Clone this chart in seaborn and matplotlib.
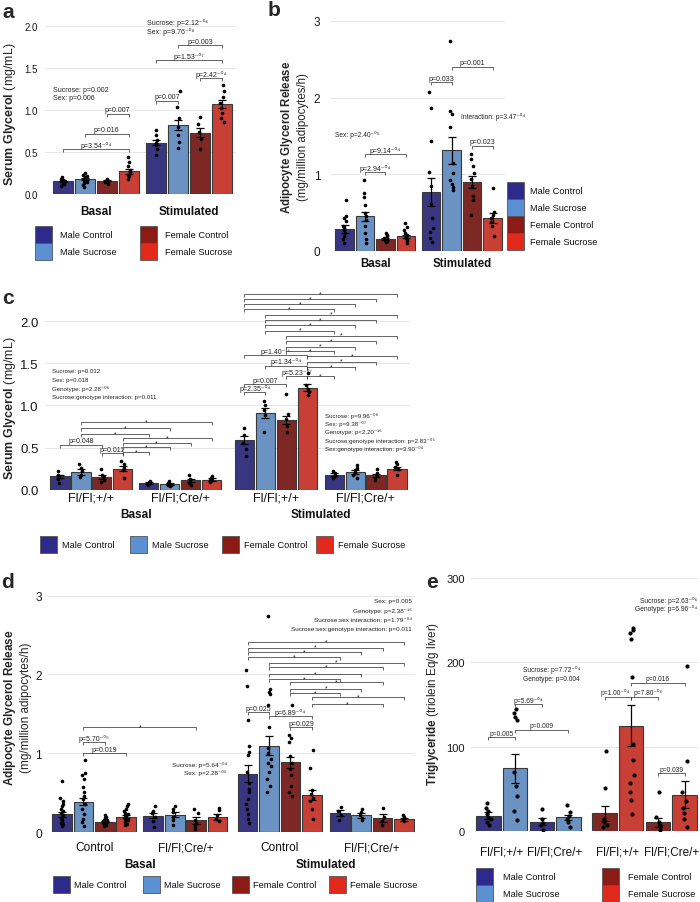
import numpy as np
import pandas as pd
import matplotlib
matplotlib.use("Agg")
import matplotlib.pyplot as plt
from matplotlib.patches import Rectangle
import seaborn as sns

# ---------------------------------------------------------------- #
# Data (means, SEM and individual animals)      #
# ---------------------------------------------------------------- #
GROUPS = ["Male Control", "Male Sucrose", "Female Control", "Female Sucrose"]
PALETTE = {"Male Control": "#2d2a8c", "Male Sucrose": "#5b91d2",
           "Female Control": "#8c1b15", "Female Sucrose": "#e12a1c"}

# a - serum glycerol, Basal / Stimulated
a_mean = [0.15, 0.18, 0.16, 0.27, 0.61, 0.82, 0.73, 1.07]
a_sem = [0.01, 0.015, 0.01, 0.03, 0.03, 0.06, 0.05, 0.045]
a_points = [[0.10, 0.12, 0.13, 0.14, 0.15, 0.16, 0.17, 0.18, 0.20, 0.12, 0.14, 0.16],
            [0.08, 0.11, 0.13, 0.15, 0.17, 0.19, 0.21, 0.23, 0.25, 0.14, 0.18, 0.20],
            [0.12, 0.14, 0.15, 0.16, 0.17, 0.18, 0.15, 0.17],
            [0.44, 0.38, 0.33, 0.29, 0.26, 0.23, 0.21, 0.18],
            [0.76, 0.70, 0.64, 0.61, 0.58, 0.53, 0.47],
            [1.23, 1.03, 0.91, 0.80, 0.70, 0.62, 0.55],
            [0.92, 0.83, 0.74, 0.65, 0.54],
            [1.30, 1.23, 1.15, 1.08, 1.02, 0.96, 0.91, 0.86]]
a_clusters = ["Basal", "Stimulated"]

# b - adipocyte glycerol release
b_mean = [0.29, 0.45, 0.16, 0.19, 0.77, 1.31, 0.90, 0.43]
b_sem = [0.05, 0.06, 0.015, 0.025, 0.18, 0.17, 0.08, 0.07]
b_points = [[0.67, 0.46, 0.43, 0.39, 0.33, 0.30, 0.28, 0.24, 0.20, 0.15, 0.11],
            [0.92, 0.76, 0.71, 0.60, 0.50, 0.45, 0.41, 0.33, 0.24, 0.15, 0.11],
            [0.23, 0.21, 0.19, 0.17, 0.16, 0.15, 0.14, 0.13, 0.12],
            [0.37, 0.31, 0.27, 0.24, 0.21, 0.19, 0.17, 0.15, 0.13, 0.11],
            [2.07, 1.87, 1.43, 1.03, 0.85, 0.61, 0.43, 0.30, 0.25, 0.17, 0.12],
            [2.74, 1.83, 1.79, 1.62, 1.15, 1.02, 0.92, 0.87, 0.83, 0.80],
            [1.26, 1.20, 1.11, 1.02, 0.94, 0.85, 0.72, 0.67, 0.47],
            [0.82, 0.51, 0.47, 0.43, 0.38, 0.33, 0.20]]
b_clusters = ["Basal", "Stimulated"]

# c - serum glycerol by genotype
c_mean = [0.16, 0.21, 0.15, 0.25, 0.08, 0.065, 0.11, 0.12,
          0.59, 0.91, 0.83, 1.21, 0.18, 0.21, 0.17, 0.25]
c_sem = [0.02, 0.03, 0.025, 0.03, 0.01, 0.01, 0.02, 0.015,
         0.05, 0.06, 0.05, 0.04, 0.015, 0.02, 0.02, 0.02]
c_points = [[0.22, 0.18, 0.15, 0.13, 0.08], [0.31, 0.26, 0.22, 0.18, 0.15],
            [0.25, 0.18, 0.15, 0.12, 0.09], [0.34, 0.30, 0.26, 0.23, 0.14],
            [0.10, 0.09, 0.08, 0.07, 0.06], [0.10, 0.08, 0.06, 0.05, 0.04],
            [0.17, 0.13, 0.11, 0.08, 0.06], [0.16, 0.14, 0.12, 0.11, 0.09],
            [0.73, 0.65, 0.55, 0.48, 0.40], [1.05, 1.00, 0.95, 0.89, 0.68],
            [1.14, 0.90, 0.84, 0.76, 0.68], [1.38, 1.24, 1.20, 1.16, 1.12],
            [0.22, 0.20, 0.18, 0.16, 0.14], [0.29, 0.26, 0.23, 0.20, 0.17, 0.14],
            [0.24, 0.20, 0.17, 0.14, 0.11], [0.33, 0.30, 0.27, 0.24, 0.18]]
c_genotypes = ["Fl/Fl;+/+", "Fl/Fl;Cre/+", "Fl/Fl;+/+", "Fl/Fl;Cre/+"]

# d - adipocyte glycerol release by genotype
d_mean = [0.23, 0.39, 0.135, 0.20, 0.21, 0.225, 0.15, 0.195,
          0.745, 1.095, 0.885, 0.475, 0.245, 0.215, 0.18, 0.165]
d_sem = [0.03, 0.045, 0.01, 0.02, 0.03, 0.035, 0.05, 0.035,
         0.11, 0.12, 0.075, 0.06, 0.035, 0.03, 0.05, 0.02]
d_points = [[0.65, 0.44, 0.40, 0.36, 0.33, 0.30, 0.27, 0.25, 0.22, 0.20, 0.18, 0.16, 0.14, 0.12, 0.10, 0.08],
            [0.91, 0.75, 0.72, 0.67, 0.57, 0.51, 0.46, 0.42, 0.36, 0.29, 0.23, 0.17, 0.13, 0.08],
            [0.22, 0.20, 0.18, 0.16, 0.15, 0.14, 0.13, 0.12, 0.11, 0.10, 0.09, 0.08],
            [0.36, 0.33, 0.30, 0.27, 0.25, 0.23, 0.21, 0.19, 0.17, 0.15, 0.13, 0.11, 0.09],
            [0.33, 0.27, 0.24, 0.19, 0.14, 0.07],
            [0.33, 0.29, 0.26, 0.20, 0.15, 0.09],
            [0.30, 0.25, 0.16, 0.12, 0.08, 0.04],
            [0.31, 0.28, 0.22, 0.17, 0.14],
            [2.06, 1.85, 1.42, 1.10, 1.02, 0.98, 0.76, 0.63, 0.55, 0.51, 0.42, 0.36, 0.29, 0.23, 0.17, 0.12],
            [2.74, 1.82, 1.78, 1.75, 1.61, 1.33, 1.07, 1.01, 0.93, 0.88, 0.84, 0.76, 0.67, 0.59, 0.51],
            [1.61, 1.23, 1.19, 1.14, 0.97, 0.88, 0.80, 0.72, 0.59, 0.51, 0.46],
            [1.04, 0.81, 0.53, 0.48, 0.44, 0.40, 0.29, 0.17],
            [0.32, 0.27, 0.22, 0.16],
            [0.30, 0.26, 0.22, 0.18, 0.15],
            [0.31, 0.20, 0.14, 0.09],
            [0.22, 0.20, 0.18, 0.16, 0.14]]
d_genotypes = ["Control", "Fl/Fl;Cre/+", "Control", "Fl/Fl;Cre/+"]

# e - liver triglyceride (male pairs then female pairs)
e_groups = ["Male Control", "Male Sucrose", "Male Control", "Male Sucrose",
            "Female Control", "Female Sucrose", "Female Control", "Female Sucrose"]
e_mean = [18.5, 74.5, 11.4, 16.5, 21.3, 125.0, 10.6, 43.0]
e_sem = [4.5, 17.0, 4.0, 3.0, 9.0, 24.0, 5.0, 16.0]
e_points = [[34, 28, 24, 20, 17, 14, 11, 7],
            [145, 140, 135, 132, 70, 54, 42, 24, 13],
            [26, 15, 10, 7, 1],
            [31, 23, 18, 15, 11, 5],
            [95, 51, 15, 11, 8, 5],
            [241, 238, 235, 227, 182, 103, 84, 67, 57, 47, 37, 20],
            [47, 17, 11, 8, 5, 1],
            [196, 83, 47, 36, 28, 22, 15, 5]]
e_genotypes = ["Fl/Fl;+/+", "Fl/Fl;Cre/+", "Fl/Fl;+/+", "Fl/Fl;Cre/+"]

# ---------------------------------------------------------------- #
# Style and helpers                                                 #
# ---------------------------------------------------------------- #
sns.set_theme(style="white")
plt.rcParams["font.family"] = ["Liberation Sans", "DejaVu Sans"]
plt.rcParams["mathtext.fontset"] = "custom"
plt.rcParams["mathtext.rm"] = "Liberation Sans"
plt.rcParams["mathtext.bf"] = "Liberation Sans:bold"
plt.rcParams["mathtext.it"] = "Liberation Sans:italic"
np.random.seed(7)

W, H = 700, 903
fig = plt.figure(figsize=(W / 100, H / 100), dpi=100)


def ftext(x, y, s, **kw):                                   # text placed in pixel coordinates
    fig.text(x / W, 1 - y / H, s, **kw)


def make_axes(left, right, top, bottom):
    return fig.add_axes([left / W, 1 - bottom / H, (right - left) / W, (bottom - top) / H])


def bar_positions(n_clusters, per, gaps):
    pos, start = [], 0.0
    for k in range(n_clusters):
        pos.extend(start + np.arange(per))
        if k < n_clusters - 1:
            start += per + gaps[k]
    return np.array(pos)


def draw_bars(ax, pos, means, sems, points, groups, dot=2.6):
    bars = pd.DataFrame({"pos": pos, "mean": means, "group": groups})
    sns.barplot(data=bars, x="pos", y="mean", hue="group", hue_order=GROUPS, palette=PALETTE,
                dodge=False, native_scale=True, orient="x", width=0.92, errorbar=None,
                edgecolor="#3a3a3a", linewidth=0.8, legend=False, ax=ax, zorder=2)
    pts = pd.DataFrame({"pos": np.repeat(pos, [len(p) for p in points]),
                        "val": np.concatenate(points)})
    sns.stripplot(data=pts, x="pos", y="val", native_scale=True, orient="x", color="black",
                  size=dot, jitter=0.09, linewidth=0, ax=ax, zorder=3)
    ax.errorbar(pos, means, yerr=sems, fmt="none", ecolor="black", elinewidth=0.9,
                capsize=3.2, capthick=0.9, zorder=4)


def style_axes(ax, pos, px, ylim, yticks, ylabels, tick_size, pad):
    left, right, top, bottom, c0, cN = px
    step = (cN - c0) / (pos[-1] - pos[0])
    ax.set_xlim(pos[0] - (c0 - left) / step, pos[-1] + (right - cN) / step)
    ax.set_ylim(*ylim)
    ax.set_yticks(yticks)
    ax.set_yticklabels(ylabels)
    ax.set_xticks([])
    ax.set_xlabel("")
    ax.set_ylabel("")
    for s in ax.spines.values():
        s.set_visible(False)
    ax.grid(axis="y", color="#e6e6e6", lw=0.7)
    ax.set_axisbelow(True)
    ax.tick_params(axis="y", length=0, pad=pad, labelsize=tick_size, labelcolor="#1a1a1a")
    return 3.0 * (ylim[1] - ylim[0]) / (bottom - top)       # 3 px bracket tick in data units


def bracket(ax, pos, i, j, y, label, tick, size=5, dx=0.0):
    x1, x2 = pos[i], pos[j]
    ax.plot([x1, x1, x2, x2], [y - tick, y, y, y - tick], color="#3a3a3a", lw=0.55,
            zorder=5, clip_on=False, solid_capstyle="butt")
    va = "center" if label == "*" else "bottom"
    ax.text((x1 + x2) / 2 + dx, y + tick * 0.15, label, ha="center", va=va,
            fontsize=size, color="#222222", zorder=6)


def under(ax, x, dy_px, s, size, bold=False):
    ax.annotate(s, xy=(x, 0), xycoords=("data", "axes fraction"), xytext=(0, -dy_px * 0.72),
                textcoords="offset points", ha="center", va="center", fontsize=size,
                fontweight="bold" if bold else "normal", color="#111111", annotation_clip=False)


def note(x, y0, dy, lines, ha, size):
    for k, line in enumerate(lines):
        ftext(x, y0 + k * dy, line, ha=ha, va="center", fontsize=size, color="#222222")


def legend_box(x, y, group, dx):
    fig.add_artist(Rectangle((x / W, 1 - (y + 17) / H), 17 / W, 17 / H, transform=fig.transFigure,
                             facecolor=PALETTE[group], edgecolor="#555555", lw=0.6))
    ftext(x + 17 + dx, y + 8.5, group, ha="left", va="center", fontsize=6.7, color="#111111")


def cluster_centers(pos, per):
    return [pos[k:k + per].mean() for k in range(0, len(pos), per)]


# ---------------------------------------------------------------- #
# Panel a                                                           #
# ---------------------------------------------------------------- #
pa = bar_positions(2, 4, [0.27])
px_a = (45, 236, 18.6, 195, 63, 222)
ax = make_axes(*px_a[:4])
draw_bars(ax, pa, a_mean, a_sem, a_points, GROUPS * 2)
tk = style_axes(ax, pa, px_a, (0, 2.1), [0, 0.5, 1.0, 1.5, 2.0],
                ["0.0", "0.5", "1.0", "1.5", "2.0"], 7, 5)
for x, lab in zip(cluster_centers(pa, 4), a_clusters):
    under(ax, x, 17, lab, 8.5, bold=True)
for i, j, y, lab in [(0, 3, 0.535, "p=3.54⁻⁰⁴"), (1, 3, 0.72, "p=0.016"), (2, 3, 0.955, "p=0.007"),
                     (4, 5, 1.11, "p=0.007"), (6, 7, 1.38, "p=2.42⁻⁰⁴"), (4, 7, 1.59, "p=1.53⁻⁰⁷"),
                     (5, 7, 1.77, "p=0.003")]:
    bracket(ax, pa, i, j, y, lab, tk)
note(53, 90, 9, ["Sucrose: p=0.002", "Sex: p=0.006"], "left", 5)
note(147, 23, 9, ["Sucrose: p=2.12⁻⁰⁶", "Sex: p=9.76⁻⁰⁸"], "left", 5)
ftext(10, 114, r"$\mathbf{Serum\ Glycerol}$ (mg/mL)", rotation=90, ha="center", va="center", fontsize=9)
for (x, y), g in zip([(35, 227), (35, 244), (140, 227), (140, 244)], GROUPS):
    legend_box(x, y, g, 8)

# ---------------------------------------------------------------- #
# Panel b                                                           #
# ---------------------------------------------------------------- #
pb = bar_positions(2, 4, [0.22])
px_b = (330, 505, 18, 252, 344.5, 492.5)
ax = make_axes(*px_b[:4])
draw_bars(ax, pb, b_mean, b_sem, b_points, GROUPS * 2)
tk = style_axes(ax, pb, px_b, (0, 3.05), [0, 1, 2, 3], ["0", "1", "2", "3"], 8.5, 7)
for x, lab in zip(cluster_centers(pb, 4), b_clusters):
    under(ax, x, 12, lab, 8.3, bold=True)
for i, j, y, lab in [(1, 2, 1.03, "p=2.94⁻⁰⁴"), (1, 3, 1.26, "p=9.14⁻⁰⁴"), (4, 5, 2.20, "p=0.033"),
                     (5, 7, 2.40, "p=0.001"), (6, 7, 1.37, "p=0.023")]:
    bracket(ax, pb, i, j, y, lab, tk)
note(335, 135, 9, ["Sex: p=2.40⁻⁰⁵"], "left", 4.8)
note(461, 117, 9, ["Interaction: p=3.47⁻⁰⁴"], "left", 4.8)
ftext(294, 137, r"$\mathbf{Adipocyte\ Glycerol\ Release}$" + "\n(mg/million adipocytes/h)",
      rotation=90, ha="center", va="center", fontsize=8.3, linespacing=1.15)
for y, g in zip([183, 200, 217, 234], GROUPS):
    legend_box(507, y, g, 6)

# ---------------------------------------------------------------- #
# Panel c                                                           #
# ---------------------------------------------------------------- #
pc = bar_positions(4, 4, [0.24, 0.57, 0.29])
px_c = (45, 410, 288.6, 490.7, 60, 397)
ax = make_axes(*px_c[:4])
draw_bars(ax, pc, c_mean, c_sem, c_points, GROUPS * 4)
tk = style_axes(ax, pc, px_c, (0, 2.4), [0, 0.5, 1.0, 1.5, 2.0],
                ["0.0", "0.5", "1.0", "1.5", "2.0"], 9.5, 4.5)
centers = cluster_centers(pc, 4)
for x, lab in zip(centers, c_genotypes):
    under(ax, x, 8, lab, 9)
under(ax, (centers[0] + centers[1]) / 2, 24.5, "Basal", 8.5, bold=True)
under(ax, (centers[2] + centers[3]) / 2, 24.5, "Stimulated", 8.5, bold=True)
c_brackets = [(0, 2, 0.535, "p=0.048"), (2, 3, 0.436, "p=0.011"),
              (1, 7, 0.80, "*"), (1, 5, 0.733, "*"), (1, 4, 0.661, "*"),
              (3, 7, 0.61, "*"), (3, 6, 0.554, "*"), (3, 5, 0.503, "*"), (3, 4, 0.444, "*"),
              (8, 9, 1.16, "p=2.35⁻⁰⁴"), (8, 10, 1.255, "p=0.007"), (10, 11, 1.35, "p=5.23⁻⁰⁷"),
              (9, 11, 1.47, "p=1.34⁻⁰⁴"), (8, 11, 1.60, "p=1.40⁻¹¹"),
              (8, 15, 2.324, "*"), (8, 14, 2.265, "*"), (8, 13, 2.20, "*"), (8, 12, 2.14, "*"),
              (9, 15, 2.08, "*"), (9, 14, 2.015, "*"), (9, 13, 1.95, "*"), (9, 12, 1.89, "*"),
              (10, 15, 1.83, "*"), (10, 14, 1.766, "*"), (10, 13, 1.70, "*"), (10, 12, 1.647, "*"),
              (11, 15, 1.585, "*"), (11, 14, 1.52, "*"), (11, 13, 1.455, "*"), (11, 12, 1.35, "*")]
for i, j, y, lab in c_brackets:
    bracket(ax, pc, i, j, y, lab, tk, size=5)
note(52, 372, 8.4, ["Sucrose: p=0.012", "Sex: p=0.018", "Genotype: p=2.28⁻⁰⁶",
                    "Sucrose:genotype interaction: p=0.011"], "left", 4.4)
note(325, 416, 8.3, ["Sucrose: p=9.96⁻⁰⁸", "Sex: p=9.38⁻⁰⁷", "Genotype: p<2.20⁻¹⁶",
                     "Sucrose:genotype interaction: p=2.83⁻⁰⁵",
                     "Sex:genotype interaction: p=3.90⁻⁰⁴"], "left", 4.4)
ftext(10, 408, r"$\mathbf{Serum\ Glycerol}$ (mg/mL)", rotation=90, ha="center", va="center", fontsize=9)
for x, g in zip([40, 130, 222, 316], GROUPS):
    legend_box(x, 537, g, 5)

# ---------------------------------------------------------------- #
# Panel d                                                           #
# ---------------------------------------------------------------- #
pd_ = bar_positions(4, 4, [0.27, 0.41, 0.31])
px_d = (48, 415, 595, 833.3, 62, 404)
ax = make_axes(*px_d[:4])
draw_bars(ax, pd_, d_mean, d_sem, d_points, GROUPS * 4)
tk = style_axes(ax, pd_, px_d, (0, 3.02), [0, 1, 2, 3], ["0", "1", "2", "3"], 8.6, 4.5)
centers = cluster_centers(pd_, 4)
for x, lab in zip(centers, d_genotypes):
    under(ax, x, 15, lab, 8.6)
under(ax, (centers[0] + centers[1]) / 2, 31.5, "Basal", 8.5, bold=True)
under(ax, (centers[2] + centers[3]) / 2, 31.5, "Stimulated", 8.5, bold=True)
d_brackets = [(1, 6, 1.33, "*"), (1, 2, 1.145, "p=5.70⁻⁰⁵"), (1, 3, 1.00, "p=0.019"),
              (8, 9, 1.525, "p=0.025"), (9, 11, 1.47, "p=6.89⁻⁰⁴"), (10, 11, 1.33, "p=0.029"),
              (8, 15, 2.41, "*"), (8, 14, 2.34, "*"), (8, 13, 2.28, "*"), (8, 12, 2.22, "*"),
              (9, 15, 2.15, "*"), (9, 14, 2.09, "*"), (9, 13, 2.00, "*"), (9, 12, 1.94, "*"),
              (10, 14, 1.90, "*"), (10, 13, 1.82, "*"), (10, 12, 1.76, "*"),
              (11, 15, 1.71, "*"), (11, 14, 1.62, "*")]
for i, j, y, lab in d_brackets:
    bracket(ax, pd_, i, j, y, lab, tk, size=5)
note(227, 765, 8.3, ["Sucrose: p=5.64⁻⁰⁴", "Sex: p=2.28⁻⁰⁵"], "right", 4.6)
note(412, 602, 9, ["Sex: p=0.005", "Genotype: p=2.38⁻¹⁶", "Sucrose:sex interaction: p=1.79⁻⁰⁴",
                   "Sucrose:sex:genotype interaction: p=0.011"], "right", 4.6)
ftext(17, 708, r"$\mathbf{Adipocyte\ Glycerol\ Release}$" + "\n(mg/million adipocytes/h)",
      rotation=90, ha="center", va="center", fontsize=8.5, linespacing=1.15)
for x, g in zip([53, 143, 232, 329], GROUPS):
    legend_box(x, 877, g, 4)

# ---------------------------------------------------------------- #
# Panel e                                                           #
# ---------------------------------------------------------------- #
pe = bar_positions(4, 2, [0.0, 0.36, 0.0])
px_e = (470, 698, 577, 832.3, 488.5, 684.5)
ax = make_axes(*px_e[:4])
draw_bars(ax, pe, e_mean, e_sem, e_points, e_groups, dot=3)
tk = style_axes(ax, pe, px_e, (0, 302), [0, 100, 200, 300], ["0", "100", "200", "300"], 8, 3.6)
for x, lab in zip(cluster_centers(pe, 2), e_genotypes):
    under(ax, x, 20, lab, 8.5)
for i, j, y, lab, dx in [(0, 1, 111, "p=0.005", 0), (1, 2, 150, "p=5.69⁻⁰⁴", 0),
                         (1, 3, 120, "p=0.009", 0), (4, 5, 159, "p=1.00⁻⁰⁴", -0.12),
                         (5, 6, 159, "p=7.80⁻⁰⁶", 0.14), (5, 7, 176, "p=0.016", 0),
                         (6, 7, 69, "p=0.039", 0)]:
    bracket(ax, pe, i, j, y, lab, tk, size=4.8, dx=dx)
note(580, 670, 9.3, ["Sucrose: p=7.72⁻⁰⁴", "Genotype: p=0.004"], "right", 4.8)
note(697, 601, 7.8, ["Sucrose: p=2.63⁻⁰⁶", "Genotype: p=6.96⁻⁰⁴"], "right", 4.8)
ftext(433, 704, r"$\mathbf{Triglyceride}$ (triolein Eq/g liver)", rotation=90,
      ha="center", va="center", fontsize=8.4)
for (x, y, dx), g in zip([(476, 869, 10), (476, 886, 10), (602, 869, 9), (602, 886, 9)], GROUPS):
    legend_box(x, y, g, dx)

# Panel letters
for x, y, s in [(8, 12, "a"), (274, 11, "b"), (8, 298, "c"), (8, 582, "d"), (432, 582, "e")]:
    ftext(x, y, s, ha="center", va="center", fontsize=15, fontweight="bold")

fig.savefig("out.png", dpi=100)
